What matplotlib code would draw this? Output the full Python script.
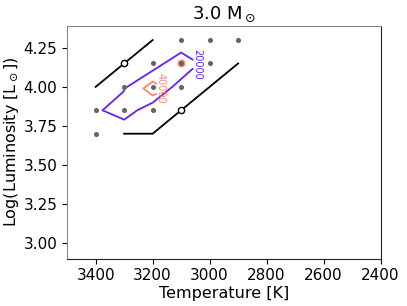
import numpy as np
import matplotlib
matplotlib.use('Agg')
import matplotlib.pyplot as plt

# grid of models
grid_T = [3100, 3000, 2900, 3200, 3100, 3000, 3300, 3200, 3100, 3400, 3300, 3200, 3400]
grid_L = [4.3, 4.3, 4.3, 4.15, 4.15, 4.15, 4.0, 4.0, 4.0, 3.85, 3.85, 3.85, 3.7]

# boundary tracks
upper_T = [3400, 3200]
upper_L = [4.0, 4.3]
lower_T = [3300, 3200, 2900]
lower_L = [3.7, 3.7, 4.15]
open_T = [3300, 3100]
open_L = [4.15, 3.85]

# contour 20000 (label gap between first and last point)
c20_T = [3060, 3100, 3298, 3302, 3376, 3300, 3254, 3199, 3131, 3060]
c20_L = [4.175, 4.22, 3.99, 3.97, 3.85, 3.79, 3.85, 3.90, 4.0, 4.115]
# contour 40000
c40_T = [3188, 3200, 3233, 3200, 3188]
c40_L = [4.02, 4.035, 3.99, 3.945, 3.955]

best_T = [3100]
best_L = [4.15]

fig, ax = plt.subplots(figsize=(4.07, 3.06), dpi=100)
ax.plot(c20_T, c20_L, color='#6620f0', lw=1.3)
ax.plot(c40_T, c40_L, color='#ff8a6a', lw=1.3)
ax.text(3043, 4.145, '20000', color='#6620f0', fontsize=7, rotation=-90, ha='center', va='center')
ax.text(3172, 3.99, '40000', color='#ff8a6a', fontsize=7, rotation=-90, ha='center', va='center')
ax.scatter(best_T, best_L, s=22, color='#ff8a6a', zorder=3)
ax.scatter(grid_T, grid_L, s=7, color='#666666', zorder=4)
ax.plot(upper_T, upper_L, color='black', lw=1.3)
ax.plot(lower_T, lower_L, color='black', lw=1.3)
ax.plot(open_T, open_L, 'o', mfc='white', mec='black', ms=4.5, mew=1, zorder=5)

ax.set_xlim(3500, 2400)
ax.set_ylim(2.9, 4.39)
ax.set_yticks([3.0, 3.25, 3.5, 3.75, 4.0, 4.25])
ax.tick_params(labelsize=11)
ax.spines['left'].set_color('#888888')
ax.spines['top'].set_color('#888888')
ax.spines['right'].set_color('#222222')
ax.spines['bottom'].set_color('#222222')
ax.set_title(r'3.0 M$_\odot$', fontsize=13, pad=5)
ax.set_xlabel('Temperature [K]', fontsize=11.5, labelpad=2)
ax.set_ylabel(r'Log(Luminosity [L$_\odot$])', fontsize=11.5, labelpad=2)
plt.subplots_adjust(left=0.165, right=0.935, top=0.915, bottom=0.155)
plt.savefig('out.png')
